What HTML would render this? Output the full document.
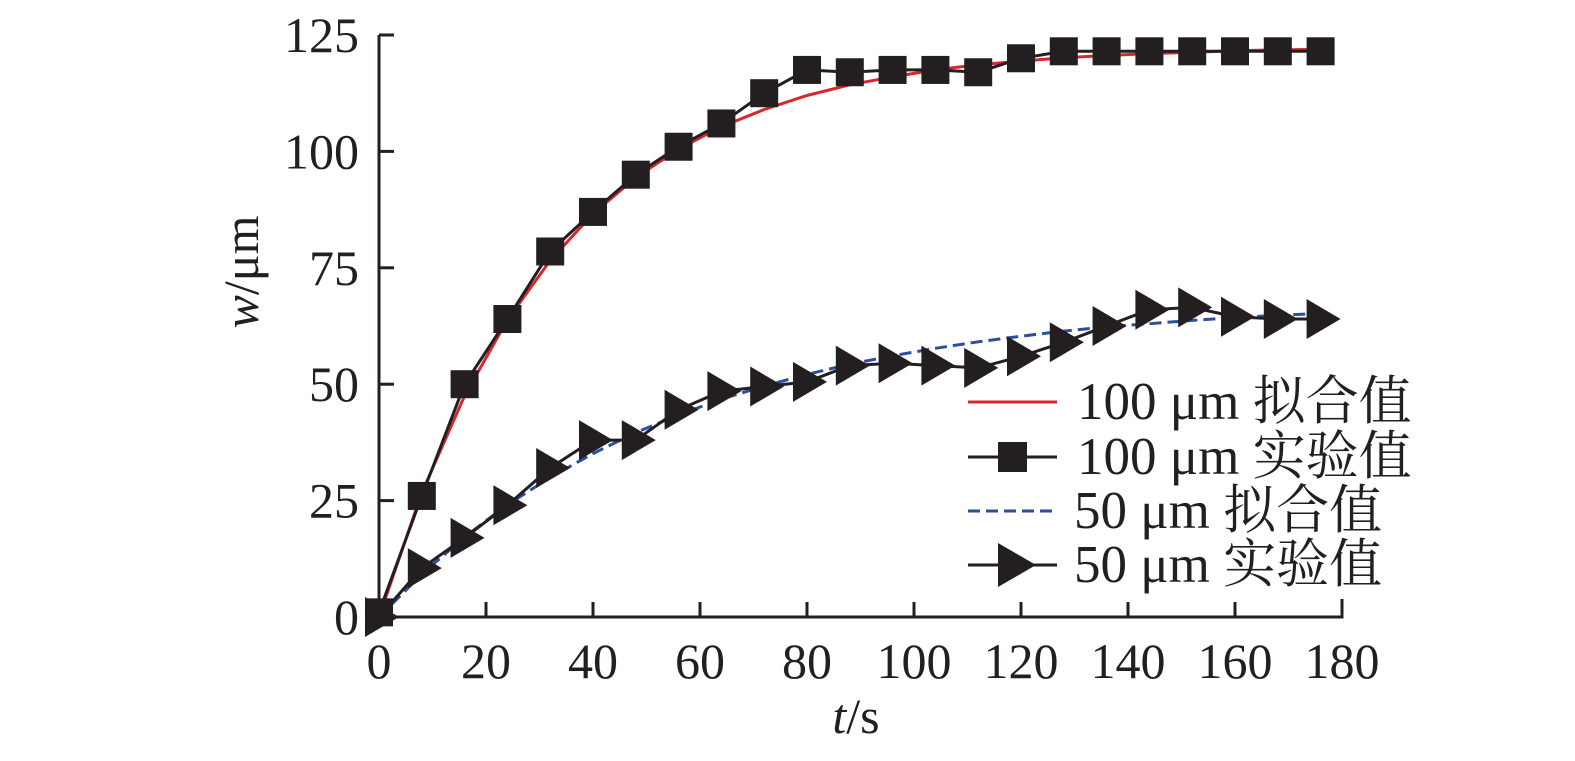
<!DOCTYPE html>
<html><head><meta charset="utf-8"><style>
html,body{margin:0;padding:0;background:#fff;}
svg text{font-family:"Liberation Serif","Noto Serif CJK SC",serif;fill:#231f20;}
</style></head><body>
<svg id="chart" width="1575" height="756" viewBox="0 0 1575 756" xmlns="http://www.w3.org/2000/svg">
<g id="axes"></g>
<g id="series"></g>
<g id="legend"></g>
</svg>
<script>
const times = [0,8,16,24,32,40,48,56,64,72,80,88,96,104,112,120,128,136,144,152,160,168,176];
const exp100 = [1,26,50,64,78.5,87,95,101,106,112.5,117.5,117,117.5,117.5,117,120,121.5,121.5,121.5,121.5,121.5,121.5,121.5];
const fit100 = [0,26.7,47.5,63.8,76.6,86.6,94.4,100.5,105.3,109.0,112.0,114.3,116.0,117.5,118.6,119.4,120.1,120.6,121.0,121.3,121.6,121.8,121.9];
const exp50 = [0,10.5,17,24,32,38,38,44.5,48.5,49.5,50.5,54,54.5,54,53.5,56,59,62.5,66,66.5,64.5,64,64];
const fit50 = [0,9.2,17.2,24.1,30.0,35.1,39.6,43.4,46.8,49.6,52.1,54.3,56.1,57.7,59.1,60.3,61.4,62.3,63.0,63.7,64.3,64.8,65.2];
const xTicks = [0,20,40,60,80,100,120,140,160,180];
const yTicks = [0,25,50,75,100,125];

const NS = "http://www.w3.org/2000/svg";
const X0=379, X1=1342, Y0=617, Y1=35;
function sx(t){return X0+(t/180)*(X1-X0);}
function sy(v){return Y0-(v/125)*(Y0-Y1);}
function mk(tag,attrs,parent){const e=document.createElementNS(NS,tag);for(const k in attrs)e.setAttribute(k,attrs[k]);parent.appendChild(e);return e;}
const axes=document.getElementById('axes'), ser=document.getElementById('series'), leg=document.getElementById('legend');

let a=mk('path',{d:`M${X0},${Y1} H${X0+15} M${X0},${Y1} V${Y0} H${X1} V${Y0-18}`,stroke:'#231f20','stroke-width':3,fill:'none'},axes);


yTicks.forEach(v=>{
  const l=mk('line',{x1:X0,x2:X0+15,y1:sy(v),y2:sy(v),stroke:'#231f20','stroke-width':3},axes);
  
  
  const t=mk('text',{x:359,y:sy(v)+17,'text-anchor':'end','font-size':50},axes);
  t.textContent=v;
  
  
});
xTicks.forEach(v=>{
  const l=mk('line',{x1:sx(v),x2:sx(v),y1:Y0,y2:Y0-15,stroke:'#231f20','stroke-width':3},axes);
  
  
  const t=mk('text',{x:sx(v),y:678,'text-anchor':'middle','font-size':50},axes);
  t.textContent=v;
  
  
});
let xt=mk('text',{x:856,y:733,'text-anchor':'middle','font-size':50},axes);
xt.innerHTML='<tspan font-style="italic">t</tspan>/s';


let yt=mk('text',{x:0,y:0,'text-anchor':'middle','font-size':50,transform:'translate(258,272) rotate(-90)'},axes);
yt.innerHTML='<tspan font-style="italic">w</tspan>/μm';



function pathOf(vals){return vals.map((v,i)=>(i?'L':'M')+sx(times[i]).toFixed(1)+','+sy(v).toFixed(1)).join(' ');}
let p=mk('path',{d:pathOf(fit50),stroke:'#2b4ea2','stroke-width':3,fill:'none','stroke-dasharray':'12,6'},ser);


p=mk('path',{d:pathOf(exp50),stroke:'#231f20','stroke-width':3,fill:'none'},ser);


exp50.forEach((v,i)=>{
  const x=sx(times[i]),y=sy(v);
  const m=mk('path',{d:`M${x-14},${y-20} L${x+20},${y} L${x-14},${y+20} Z`,fill:'#231f20'},ser);
  
  
});
p=mk('path',{d:pathOf(fit100),stroke:'#d7262c','stroke-width':3,fill:'none'},ser);


p=mk('path',{d:pathOf(exp100),stroke:'#231f20','stroke-width':3,fill:'none'},ser);


exp100.forEach((v,i)=>{
  const x=sx(times[i]),y=sy(v);
  const m=mk('rect',{x:x-14,y:y-14,width:28,height:28,fill:'#231f20'},ser);
  
  
});

const legLabels=['100 μm 拟合值','100 μm 实验值','50 μm 拟合值','50 μm 实验值'];
const legY=[402,457,511,565];
legLabels.forEach((s,i)=>{
  const y=legY[i];
  const g=mk('g',{},leg);
  
  
  if(i===0) mk('line',{x1:968,x2:1057,y1:y,y2:y,stroke:'#d7262c','stroke-width':3},g);
  if(i===2) mk('line',{x1:968,x2:1057,y1:y,y2:y,stroke:'#2b4ea2','stroke-width':3,'stroke-dasharray':'12,6'},g);
  if(i===1){mk('line',{x1:968,x2:1057,y1:y,y2:y,stroke:'#231f20','stroke-width':3},g);mk('rect',{x:998,y:y-15,width:29,height:30,fill:'#231f20'},g);}
  if(i===3){mk('line',{x1:968,x2:1057,y1:y,y2:y,stroke:'#231f20','stroke-width':3},g);mk('path',{d:`M${998},${y-22} L${1036},${y} L${998},${y+22} Z`,fill:'#231f20'},g);}
  const t=mk('text',{x:i<2?1077:1074,y:y+17,'font-size':53},g);
  t.textContent=s;
});
</script>
</body></html>
